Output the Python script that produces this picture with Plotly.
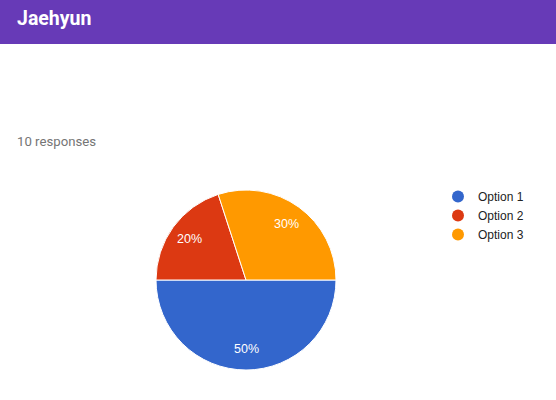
import math

import plotly.graph_objects as go

W, H = 556, 400

title_text = 'Jaehyun'
subtitle_text = '10 responses'
labels = ['Option 1', 'Option 2', 'Option 3']
counts = [5, 2, 3]
colors = ['#3366CC', '#DC3912', '#FF9900']

# pie placement (pixels)
CX, CY, R = 246, 280, 90
LABEL_R = 0.77

fig = go.Figure()

fig.add_trace(go.Pie(labels=labels,
                     values=counts,
                     sort=False,
                     direction='clockwise',
                     rotation=90,
                     marker=dict(colors=colors, line=dict(color='white', width=1)),
                     textinfo='none',
                     hoverinfo='label+percent',
                     showlegend=False,
                     domain=dict(x=[(CX - R) / W, (CX + R) / W],
                                 y=[1 - (CY + R) / H, 1 - (CY - R) / H])))

# round legend markers via empty scatter traces
for name, color in zip(labels, colors):
    fig.add_trace(go.Scatter(x=[None], y=[None], mode='markers', name=name,
                             marker=dict(symbol='circle', size=12, color=color)))

# percentage labels, placed at the slice mid angles like google charts does
total = sum(counts)
start = 90.0  # degrees clockwise from 12 o'clock
for value in counts:
    share = value / total
    mid = start + share * 360 / 2
    ang = math.radians(mid)
    px = CX + LABEL_R * R * math.sin(ang)
    py = CY - LABEL_R * R * math.cos(ang)
    fig.add_annotation(text=f'{share:.0%}', xref='paper', yref='paper',
                       x=px / W, y=1 - py / H, xanchor='center', yanchor='middle',
                       showarrow=False,
                       font=dict(family='Arial', size=12.5, color='white'))
    start += share * 360

fig.update_xaxes(visible=False)
fig.update_yaxes(visible=False)

# purple header band
fig.add_shape(type='rect', xref='paper', yref='paper',
              x0=0, x1=1, y0=1 - 44 / H, y1=1,
              fillcolor='#673AB7', line_width=0, layer='below')

fig.add_annotation(text='<b>' + title_text + '</b>', xref='paper', yref='paper',
                   x=15 / W, y=1 - 18 / H, xanchor='left', yanchor='middle',
                   showarrow=False,
                   font=dict(family='Roboto', size=19.5, color='white'))
fig.add_annotation(text=subtitle_text, xref='paper', yref='paper',
                   x=15 / W, y=1 - 141 / H, xanchor='left', yanchor='middle',
                   showarrow=False,
                   font=dict(family='Roboto', size=13.2, color='#757575'))

fig.update_layout(
    width=W, height=H,
    margin=dict(t=0, l=0, r=0, b=0),
    paper_bgcolor='white',
    plot_bgcolor='white',
    legend=dict(x=438 / W, y=1 - 182 / H, xanchor='left', yanchor='top',
                font=dict(family='Arial', size=12, color='#222222'),
                itemwidth=30, tracegroupgap=0,
                bgcolor='rgba(0,0,0,0)'),
)

fig.write_html('out.html', config={'displayModeBar': False},
               post_script="document.body.style.margin='0';")
